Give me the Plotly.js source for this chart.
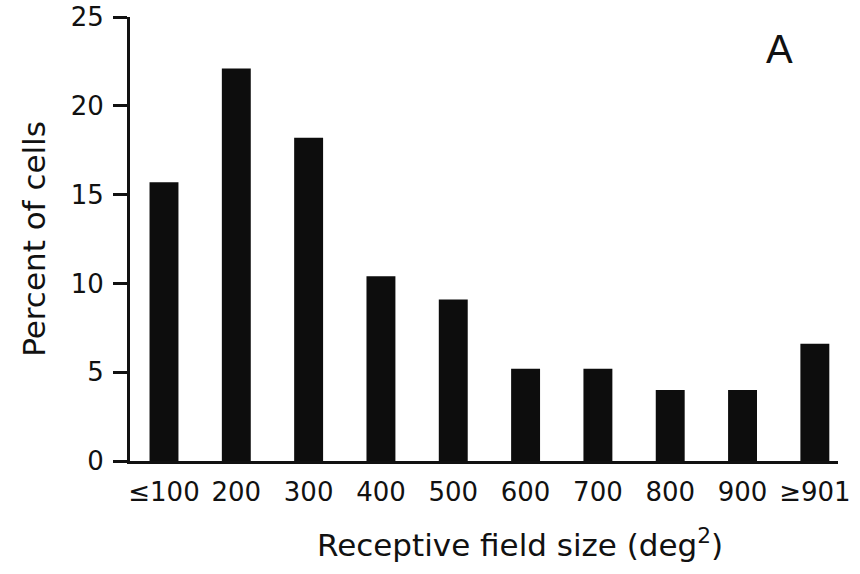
<!DOCTYPE html>
<html>
<head>
<meta charset="utf-8">
<script src="https://cdn.plot.ly/plotly-3.0.1.min.js"></script>
<style>
  html, body { margin: 0; padding: 0; background: #fff; }
  #chart { width: 860px; height: 574px; }
</style>
</head>
<body>
<div id="chart"></div>
<script>
// Receptive field size bins (deg^2) and percent of cells in each bin
const sizeBins = ['≤100', '200', '300', '400', '500', '600', '700', '800', '900', '≥901'];
const percentCells = [15.7, 22.1, 18.2, 10.4, 9.1, 5.2, 5.2, 4.0, 4.0, 6.6];
const yTicks = [0, 5, 10, 15, 20, 25];

const font = 'DejaVu Sans, Verdana, sans-serif';
const ink = '#111';

const trace = {
  type: 'bar',
  x: sizeBins,
  y: percentCells,
  marker: { color: '#0d0d0d', line: { width: 0 } },
  hoverinfo: 'x+y'
};

const layout = {
  width: 860,
  height: 574,
  margin: { l: 130, r: 22, t: 17, b: 113 },
  paper_bgcolor: '#fff',
  plot_bgcolor: '#fff',
  showlegend: false,
  bargap: 0.6,
  font: { family: font, color: ink },
  xaxis: {
    type: 'category',
    range: [-0.47, 9.32],
    showline: true,
    linecolor: ink,
    linewidth: 3,
    ticks: '',
    ticklabelstandoff: 6,
    showgrid: false,
    zeroline: false,
    tickfont: { family: font, size: 26, color: ink }
  },
  yaxis: {
    range: [0, 25],
    tickvals: yTicks,
    ticktext: yTicks.map(String),
    showline: true,
    linecolor: ink,
    linewidth: 3,
    ticks: 'outside',
    ticklen: 14,
    tickwidth: 3,
    tickcolor: ink,
    ticklabelstandoff: 4,
    showgrid: false,
    zeroline: false,
    tickfont: { family: font, size: 26, color: ink },
    title: { text: 'Percent of cells', font: { family: font, size: 31, color: ink }, standoff: 16 }
  },
  annotations: [
    {
      // x-axis title, set slightly right of the plot centre
      text: 'Receptive field size (deg<sup>2</sup>)',
      xref: 'paper', yref: 'paper',
      x: 0.551, y: -0.185,
      xanchor: 'center', yanchor: 'middle',
      showarrow: false,
      font: { family: font, size: 31, color: ink }
    },
    {
      text: 'A',
      xref: 'paper', yref: 'paper',
      x: 0.917, y: 0.928,
      xanchor: 'center', yanchor: 'middle',
      showarrow: false,
      font: { family: 'Liberation Sans, Arial, sans-serif', size: 40, color: ink }
    }
  ]
};

Plotly.newPlot('chart', [trace], layout, { displayModeBar: false, staticPlot: true });
</script>
</body>
</html>
